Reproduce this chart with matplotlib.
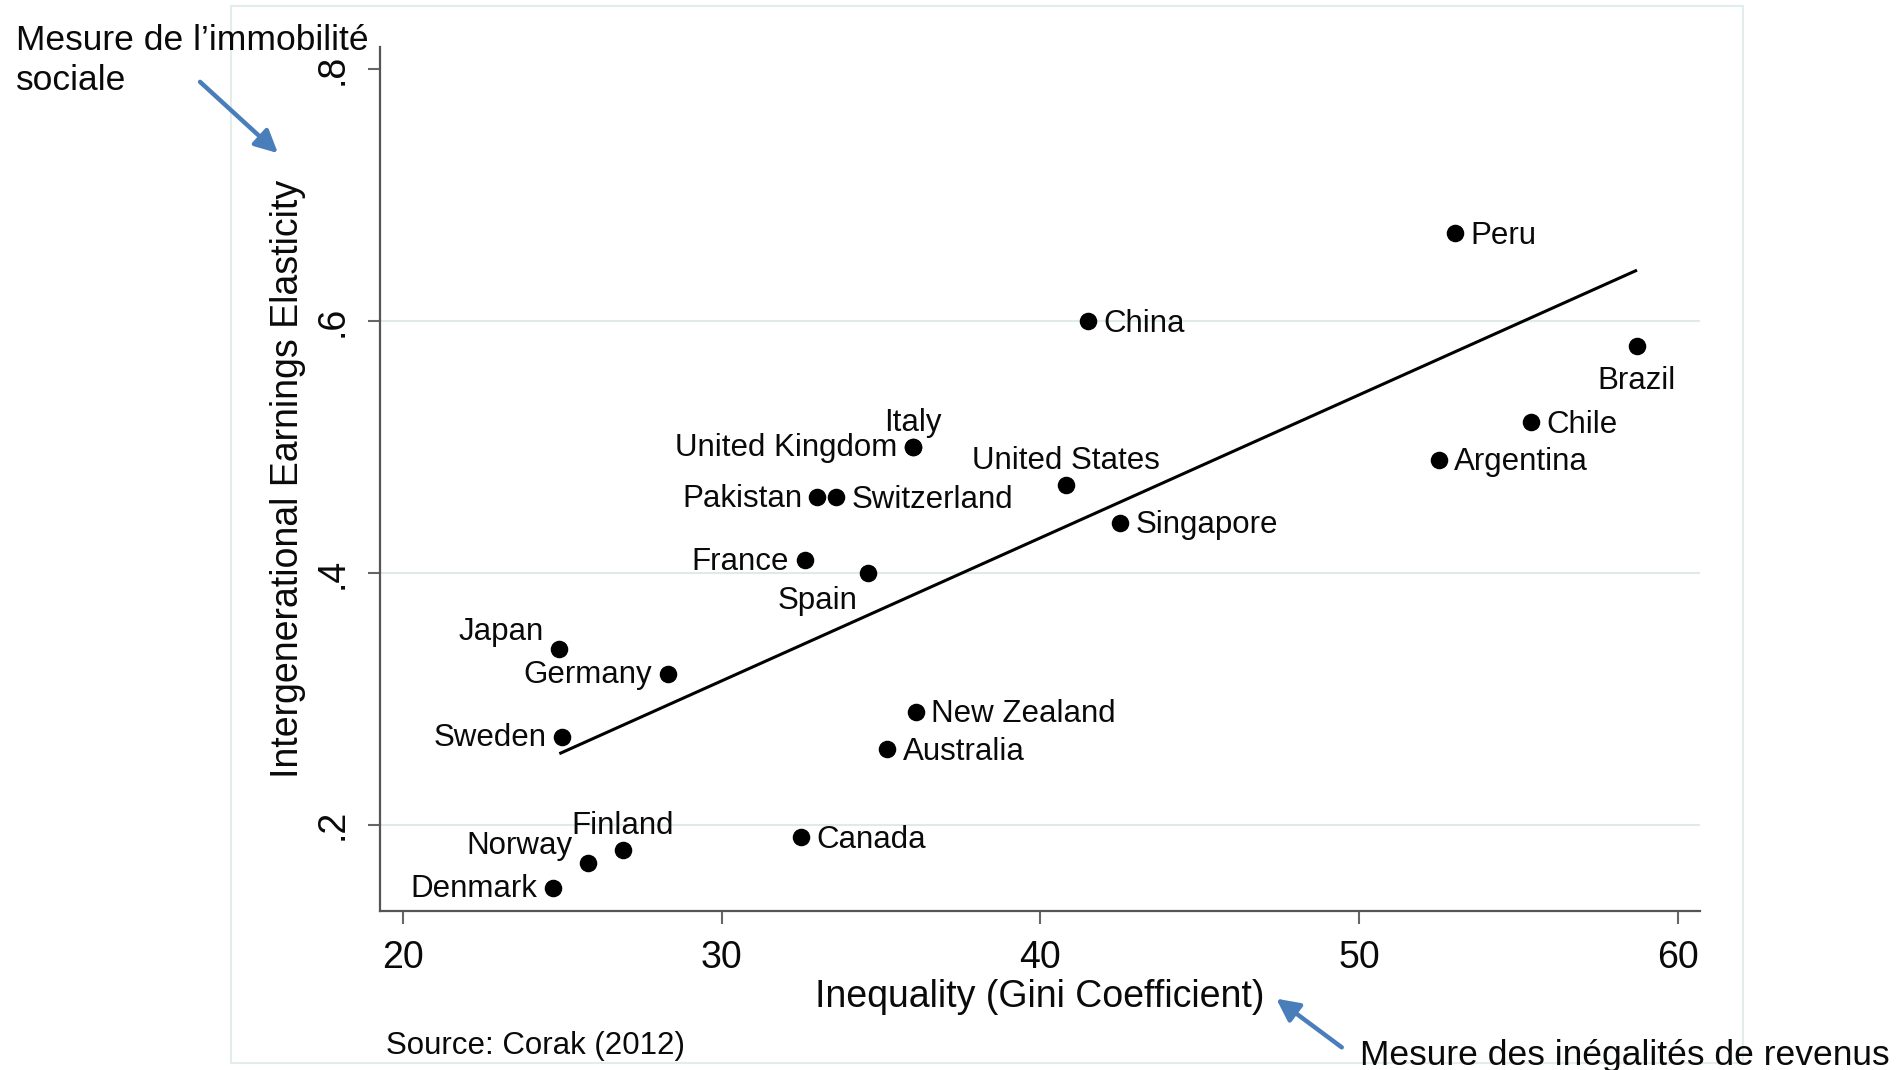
import numpy as np
import matplotlib.pyplot as plt
from matplotlib.patches import Rectangle

plt.rcParams['font.family'] = ['Liberation Sans', 'DejaVu Sans']

countries = ["Peru", "China", "Brazil", "Chile", "Argentina", "Italy", "United Kingdom",
             "United States", "Singapore", "Pakistan", "Switzerland", "France", "Spain",
             "Japan", "Germany", "Sweden", "New Zealand", "Australia", "Canada",
             "Finland", "Norway", "Denmark"]
gini = [53.0, 41.5, 58.7, 55.4, 52.5, 36.0, 36.0,
        40.8, 42.5, 33.0, 33.6, 32.6, 34.6,
        24.9, 28.3, 25.0, 36.1, 35.2, 32.5,
        26.9, 25.8, 24.7]
ige = [0.67, 0.60, 0.58, 0.52, 0.49, 0.50, 0.50,
       0.47, 0.44, 0.46, 0.46, 0.41, 0.40,
       0.34, 0.32, 0.27, 0.29, 0.26, 0.19,
       0.18, 0.17, 0.15]
# where each label sits relative to its dot
label_pos = ["r", "r", "b", "r", "r", "t", "l",
             "t", "r", "l", "r", "l", "bl",
             "tl", "l", "l", "r", "r", "r",
             "t", "tl", "l"]

# fitted line end points
fit_x = [24.95, 58.67]
fit_y = [0.257, 0.640]

xticks = [20, 30, 40, 50, 60]
yticks = [0.2, 0.4, 0.6, 0.8]
ytick_labels = [".2", ".4", ".6", ".8"]

W, H = 1904, 1070
fig = plt.figure(figsize=(W / 100, H / 100), dpi=100)

# faint frame around the graph region
fig.add_artist(Rectangle((231 / W, 1 - 1063 / H), (1743 - 231) / W, (1063 - 6) / H,
                         transform=fig.transFigure, fill=False,
                         edgecolor="#e4eded", lw=1.5))

ax = fig.add_axes([380 / W, 1 - 911 / H, (1700 - 380) / W, (911 - 47) / H])
ax.set_xlim(19.28, 60.69)
ax.set_ylim(0.1316, 0.8177)

for y in yticks[:-1]:
    ax.axhline(y, color="#dfeaeb", lw=1.5, zorder=0)

ax.plot(fit_x, fit_y, color="black", lw=2.2, zorder=2)
ax.scatter(gini, ige, s=135, color="black", zorder=3)

offsets = {
    "r": ((11, -2), "left", "center"),
    "l": ((-11, -1), "right", "center"),
    "t": ((0, 17), "center", "center"),
    "b": ((0, -25), "center", "center"),
    "bl": ((-8, -20), "right", "center"),
    "tl": ((-11, 12), "right", "center"),
}
for name, x, y, p in zip(countries, gini, ige, label_pos):
    off, ha, va = offsets[p]
    ax.annotate(name, (x, y), xytext=off, textcoords="offset points",
                ha=ha, va=va, fontsize=22.5, color="#0a0a0a")

for side in ["top", "right"]:
    ax.spines[side].set_visible(False)
for side in ["left", "bottom"]:
    ax.spines[side].set_color("#555555")
    ax.spines[side].set_linewidth(1.6)

ax.set_xticks(xticks)
ax.set_yticks(yticks)
ax.set_yticklabels(ytick_labels, rotation=90, va="center")
ax.tick_params(axis="both", length=9, width=1.5, color="#666666",
               labelsize=27, labelcolor="#0a0a0a")
ax.tick_params(axis="x", pad=12)
ax.tick_params(axis="y", pad=12)

ax.set_xlabel("Inequality (Gini Coefficient)", fontsize=27, labelpad=2, color="#0a0a0a")
ax.set_ylabel("Intergenerational Earnings Elasticity", fontsize=27, labelpad=6, color="#0a0a0a")

# annotations around the chart
fig.text(16 / W, 1 - 40 / H, "Mesure de l’immobilité", fontsize=25.5,
         va="center", ha="left", color="#0a0a0a")
fig.text(16 / W, 1 - 81 / H, "sociale", fontsize=25.5,
         va="center", ha="left", color="#0a0a0a")
fig.text(1360 / W, 1 - 1056 / H, "Mesure des inégalités de revenus", fontsize=25.5,
         va="center", ha="left", color="#0a0a0a")
fig.text(386 / W, 1 - 1046 / H, "Source: Corak (2012)", fontsize=22.5,
         va="center", ha="left", color="#0a0a0a")

arrow = dict(arrowstyle="-|>", color="#4a7ebb", lw=3.2, mutation_scale=34)
fig.add_artist(plt.Annotation("", xy=(280 / W, 1 - 155 / H), xytext=(198 / W, 1 - 80 / H),
                              xycoords="figure fraction", textcoords="figure fraction",
                              arrowprops=arrow))
fig.add_artist(plt.Annotation("", xy=(1274 / W, 1 - 997 / H), xytext=(1344 / W, 1 - 1049 / H),
                              xycoords="figure fraction", textcoords="figure fraction",
                              arrowprops=arrow))

fig.savefig("out.png", dpi=100)
